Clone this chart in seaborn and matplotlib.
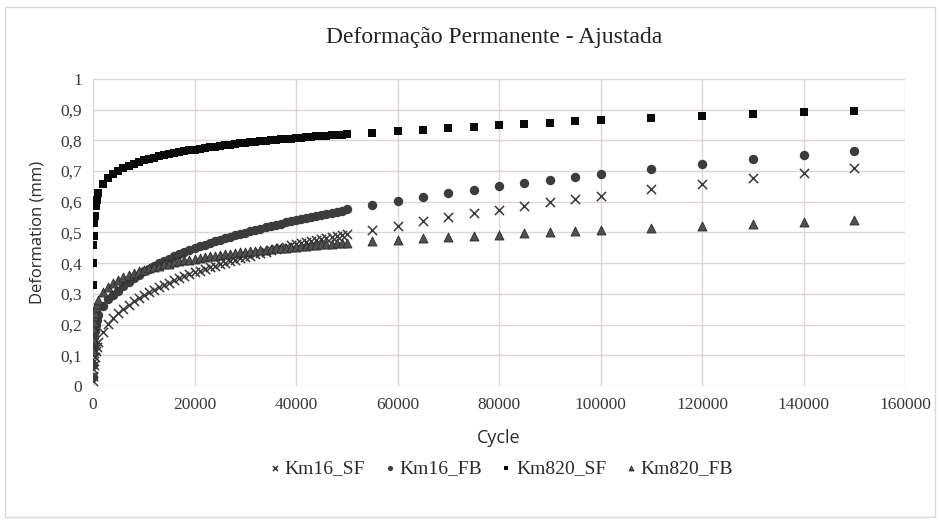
import matplotlib
matplotlib.use("Agg")
import matplotlib.pyplot as plt
from matplotlib.ticker import FuncFormatter, MultipleLocator
from matplotlib.patches import Rectangle
import seaborn as sns
import pandas as pd

# ---- data ----
cycles = [1, 10, 50, 100, 200, 300, 500, 700,
          1000, 2000, 3000, 4000, 5000, 6000, 7000, 8000, 9000, 10000,
          11000, 12000, 13000, 14000, 15000, 16000, 17000, 18000, 19000, 20000,
          21000, 22000, 23000, 24000, 25000, 26000, 27000, 28000, 29000, 30000,
          31000, 32000, 33000, 34000, 35000, 36000, 37000, 38000, 39000, 40000,
          41000, 42000, 43000, 44000, 45000, 46000, 47000, 48000, 49000, 50000,
          55000, 60000, 65000, 70000, 75000, 80000, 85000, 90000, 95000, 100000,
          110000, 120000, 130000, 140000, 150000]

km16_sf = [0.016, 0.033, 0.054, 0.068, 0.083, 0.096, 0.113, 0.126,
           0.142, 0.177, 0.201, 0.221, 0.237, 0.251, 0.264, 0.276, 0.286, 0.296,
           0.305, 0.314, 0.322, 0.330, 0.337, 0.344, 0.351, 0.357, 0.364, 0.370,
           0.375, 0.381, 0.386, 0.392, 0.397, 0.402, 0.407, 0.412, 0.416, 0.421,
           0.425, 0.430, 0.434, 0.438, 0.442, 0.446, 0.450, 0.454, 0.458, 0.461,
           0.465, 0.469, 0.472, 0.476, 0.479, 0.483, 0.486, 0.489, 0.492, 0.495,
           0.508, 0.522, 0.536, 0.549, 0.562, 0.574, 0.587, 0.598, 0.609, 0.620,
           0.641, 0.659, 0.677, 0.694, 0.710]

km16_fb = [0.030, 0.070, 0.110, 0.130, 0.160, 0.180, 0.200, 0.215,
           0.230, 0.262, 0.283, 0.298, 0.311, 0.325, 0.339, 0.351, 0.362, 0.373,
           0.382, 0.391, 0.400, 0.408, 0.415, 0.423, 0.429, 0.436, 0.442, 0.449,
           0.455, 0.460, 0.466, 0.471, 0.476, 0.481, 0.486, 0.491, 0.496, 0.500,
           0.505, 0.509, 0.513, 0.517, 0.521, 0.525, 0.529, 0.533, 0.537, 0.540,
           0.544, 0.547, 0.551, 0.554, 0.558, 0.561, 0.564, 0.567, 0.570, 0.575,
           0.590, 0.604, 0.617, 0.629, 0.640, 0.652, 0.662, 0.672, 0.681, 0.689,
           0.707, 0.722, 0.738, 0.752, 0.766]

km820_sf = [0.330, 0.400, 0.460, 0.490, 0.530, 0.555, 0.585, 0.605,
            0.628, 0.658, 0.677, 0.690, 0.701, 0.710, 0.717, 0.724, 0.729, 0.735,
            0.740, 0.744, 0.748, 0.752, 0.755, 0.759, 0.762, 0.765, 0.768, 0.770,
            0.773, 0.775, 0.778, 0.780, 0.782, 0.784, 0.786, 0.788, 0.790, 0.792,
            0.794, 0.795, 0.797, 0.799, 0.800, 0.802, 0.803, 0.805, 0.806, 0.808,
            0.809, 0.810, 0.812, 0.813, 0.814, 0.815, 0.817, 0.818, 0.819, 0.820,
            0.825, 0.830, 0.835, 0.840, 0.845, 0.850, 0.854, 0.858, 0.862, 0.866,
            0.874, 0.880, 0.886, 0.891, 0.897]

km820_fb = [0.113, 0.153, 0.189, 0.207, 0.227, 0.239, 0.256, 0.267,
            0.280, 0.307, 0.323, 0.336, 0.346, 0.354, 0.361, 0.368, 0.373, 0.379,
            0.383, 0.388, 0.392, 0.396, 0.399, 0.403, 0.406, 0.409, 0.412, 0.415,
            0.417, 0.420, 0.422, 0.425, 0.427, 0.429, 0.431, 0.433, 0.435, 0.437,
            0.439, 0.441, 0.443, 0.444, 0.446, 0.448, 0.449, 0.451, 0.453, 0.454,
            0.455, 0.457, 0.458, 0.460, 0.461, 0.462, 0.464, 0.465, 0.466, 0.467,
            0.472, 0.476, 0.481, 0.485, 0.489, 0.493, 0.497, 0.501, 0.504, 0.508,
            0.514, 0.521, 0.527, 0.533, 0.540]

series_names = ["Km16_SF", "Km16_FB", "Km820_SF", "Km820_FB"]
series_values = [km16_sf, km16_fb, km820_sf, km820_fb]

x_ticks = [0, 20000, 40000, 60000, 80000, 100000, 120000, 140000, 160000]
title = "Deformação Permanente - Ajustada"
x_label = "Cycle"
y_label = "Deformation (mm)"

rows = []
for name, vals in zip(series_names, series_values):
    for c, v in zip(cycles, vals):
        rows.append({"Cycle": c, "Deformation": v, "Series": name})
df = pd.DataFrame(rows)

# ---- style ----
sns.set_theme(style="white")
plt.rcParams["font.family"] = ["Liberation Serif", "DejaVu Serif"]

styles = {
    "Km16_SF": dict(marker="x", color="#3a3a3a", s=44, linewidth=1.1),
    "Km16_FB": dict(marker="o", color="#3c3c3c", s=46, linewidth=0),
    "Km820_SF": dict(marker="s", color="#0a0a0a", s=36, linewidth=0),
    "Km820_FB": dict(marker="^", color="#505050", s=42, linewidth=0.6, edgecolor="#2a2a2a"),
}

fig = plt.figure(figsize=(9.41, 5.23), dpi=100)
ax = fig.add_axes([93 / 941, 1 - 386 / 523, (905 - 93) / 941, (386 - 79) / 523])

for name in series_names:
    st = styles[name]
    sub = df[df["Series"] == name]
    kw = dict(marker=st["marker"], color=st["color"], s=st["s"], linewidth=st["linewidth"])
    if "edgecolor" in st:
        kw["edgecolor"] = st["edgecolor"]
    sns.scatterplot(data=sub, x="Cycle", y="Deformation", ax=ax, label=name,
                    zorder=3, **kw)

ax.set_xlim(0, 160000)
ax.set_ylim(0, 1)
ax.set_xticks(x_ticks)
ax.set_xticklabels([str(t) for t in x_ticks])
ax.yaxis.set_major_locator(MultipleLocator(0.1))
ax.yaxis.set_major_formatter(FuncFormatter(
    lambda v, p: ("%g" % round(v, 1)).replace(".", ",")))
ax.grid(True, color="#dcd6d6", linewidth=1.0)
ax.set_axisbelow(True)
for sp in ax.spines.values():
    sp.set_visible(False)
ax.tick_params(axis="both", length=0, labelsize=12.5, colors="#3a3a3a", pad=8)
for lab in ax.get_xticklabels() + ax.get_yticklabels():
    lab.set_fontfamily(["Liberation Serif", "DejaVu Serif"])

ax.set_xlabel("")
ax.set_ylabel("")
fig.text(0.5 * (93 + 905) / 941, 1 - 438 / 523, x_label, ha="center", va="center",
         fontsize=13, color="#2a2a2a", family=["Open Sans", "DejaVu Sans"])
fig.text(38 / 941, 1 - 232 / 523, y_label, ha="center", va="center", rotation=90,
         fontsize=12, color="#2a2a2a", family=["Open Sans", "DejaVu Sans"])
fig.text(0.5 * (93 + 905) / 941 - 0.005, 1 - 37 / 523, title, ha="center", va="center",
         fontsize=17, color="#222222", family=["Liberation Serif", "DejaVu Serif"])

leg = ax.legend(loc="center", bbox_to_anchor=(0.532, 1 - 468 / 523), bbox_transform=fig.transFigure,
                ncol=4, frameon=False, fontsize=14, handlelength=0.7, handletextpad=0.15,
                columnspacing=0.9, markerscale=0.55, borderaxespad=0)
for t in leg.get_texts():
    t.set_color("#2a2a2a")

fig.patches.append(Rectangle((5 / 941, 1 - 517 / 523), 930 / 941, 510 / 523,
                             transform=fig.transFigure, fill=False,
                             edgecolor="#d9d9d9", linewidth=1.0))

fig.savefig("out.png", dpi=100, facecolor="white")
